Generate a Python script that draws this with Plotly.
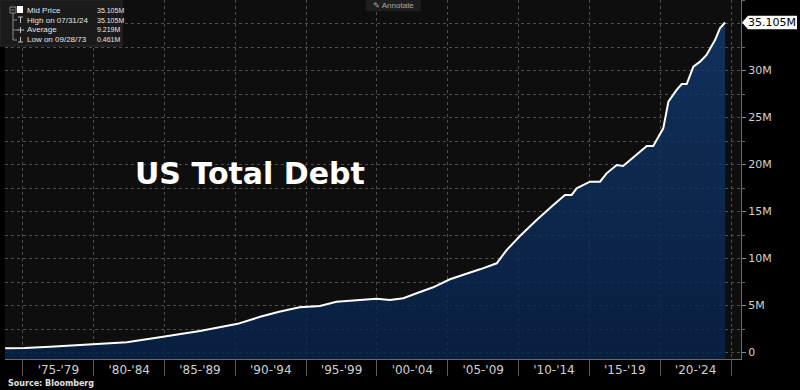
import plotly.graph_objects as go

# ---- data (US total debt, in M as labelled on the chart) ----
dates = [
    "1973-09-28", "1975-02-15", "1976-12-01", "1979-12-01", "1982-05-01",
    "1984-11-20", "1987-07-01", "1990-03-01", "1991-10-01", "1993-02-01",
    "1994-07-15", "1995-12-20", "1997-02-20", "1998-10-15", "1999-12-20",
    "2000-12-01", "2001-11-10", "2002-10-20", "2003-12-20", "2005-02-25",
    "2006-02-05", "2007-04-10", "2008-06-15", "2009-02-25", "2010-02-05",
    "2011-04-10", "2012-06-15", "2013-04-10", "2013-10-01", "2014-02-05",
    "2015-01-15", "2015-10-01", "2016-03-20", "2016-12-05", "2017-05-20",
    "2017-11-15", "2018-05-05", "2019-01-20", "2019-07-05", "2020-03-20",
    "2020-07-30", "2021-02-28", "2021-07-10", "2021-11-15", "2022-05-05",
    "2022-10-25", "2023-04-10", "2023-11-15", "2024-03-20", "2024-07-31",
]
debt_m = [
    0.461, 0.48, 0.62, 0.87, 1.09,
    1.68, 2.29, 3.05, 3.80, 4.34,
    4.81, 4.95, 5.40, 5.59, 5.72,
    5.59, 5.77, 6.30, 6.94, 7.79,
    8.24, 8.85, 9.49, 10.90, 12.39,
    14.10, 15.69, 16.76, 16.76, 17.47,
    18.17, 18.17, 19.06, 19.95, 19.84,
    20.48, 21.10, 21.97, 21.97, 23.85,
    26.68, 27.93, 28.56, 28.56, 30.40,
    30.94, 31.65, 33.24, 34.49, 35.105,
]

x_bin_edges = ["1975-01-01", "1980-01-01", "1985-01-01", "1990-01-01", "1995-01-01",
               "2000-01-01", "2005-01-01", "2010-01-01", "2015-01-01", "2020-01-01",
               "2025-01-01"]
x_label_pos = ["1977-07-02", "1982-07-02", "1987-07-02", "1992-07-02", "1997-07-02",
               "2002-07-02", "2007-07-02", "2012-07-02", "2017-07-02", "2022-07-02"]
x_labels = ["'75-'79", "'80-'84", "'85-'89", "'90-'94", "'95-'99",
            "'00-'04", "'05-'09", "'10-'14", "'15-'19", "'20-'24"]
y_tickvals = [0, 5, 10, 15, 20, 25, 30]
y_ticktext = ["0", "5M", "10M", "15M", "20M", "25M", "30M"]

legend_names = ["Mid Price", "High on 07/31/24", "Average", "Low on 09/28/73"]
legend_values = ["35.105M", "35.105M", "9.219M", "0.461M"]

Y_MIN, Y_MAX = -0.69, 37.5
X_RANGE = ["1973-09-24", "2025-09-15"]

# ---- pixel helpers for decorations ----
PL, PR, PT, PB = 5, 741, 0, 359
def px(x):
    return (x - PL) / (PR - PL)
def py(y):
    return (PB - y) / (PB - PT)

fig = go.Figure()
fig.add_trace(go.Scatter(x=dates, y=[Y_MIN] * len(dates), mode="lines",
                         line=dict(width=0, color="rgba(0,0,0,0)"),
                         hoverinfo="skip", showlegend=False))
fig.add_trace(go.Scatter(
    x=dates, y=debt_m, mode="lines", fill="tonexty",
    line=dict(color="white", width=2),
    fillgradient=dict(type="vertical",
                      colorscale=[[0, "rgba(7,34,74,0.82)"], [1, "rgba(18,56,108,0.82)"]]),
    showlegend=False))

grid_col = "#4e4e4e"
fig.update_layout(
    width=800, height=390, autosize=False,
    margin=dict(l=PL, r=800 - PR, t=PT, b=390 - PB),
    paper_bgcolor="#000000", plot_bgcolor="#0e0e0e",
    font=dict(family="DejaVu Sans", color="#d0d0d0"),
    xaxis=dict(
        type="date", range=X_RANGE, tickmode="array",
        tickvals=x_label_pos, ticktext=x_labels,
        ticks="outside", ticklen=0, showgrid=False, zeroline=False,
        showline=True, linecolor="#6a6a6a", linewidth=1,
        tickfont=dict(size=12, color="#d0d0d0"),
        minor=dict(tickmode="array", tickvals=x_bin_edges, ticks="outside",
                   ticklen=16, tickcolor="#5a5a5a", tickwidth=1,
                   showgrid=True, gridcolor=grid_col, griddash="dot", gridwidth=1),
    ),
    yaxis=dict(
        side="right", range=[Y_MIN, Y_MAX], tickmode="array",
        tickvals=y_tickvals, ticktext=y_ticktext,
        ticks="outside", ticklen=4, tickcolor="#8a8a8a",
        showgrid=True, gridcolor=grid_col, griddash="dot", gridwidth=1,
        zeroline=False, showline=True, linecolor="#6a6a6a", linewidth=1,
        tickfont=dict(size=11, color="#d0d0d0"),
        minor=dict(dtick=2.5, tick0=0, ticks="outside", ticklen=3,
                   tickcolor="#6a6a6a", showgrid=True, gridcolor=grid_col,
                   griddash="dot", gridwidth=1),
    ),
)

shapes = []
anns = []

# title
anns.append(dict(xref="paper", yref="paper", x=px(133), y=py(173),
                 xanchor="left", yanchor="middle", showarrow=False,
                 text="<b>US Total Debt</b>",
                 font=dict(family="DejaVu Sans", size=30, color="white")))
# source
anns.append(dict(xref="paper", yref="paper", x=px(6), y=py(383),
                 xanchor="left", yanchor="middle", showarrow=False,
                 text="<b>Source: Bloomberg</b>",
                 font=dict(family="DejaVu Sans", size=8, color="#e0e0e0")))

# last value tag
last = debt_m[-1]
h = 0.72
shapes.append(dict(type="path", xref="paper", yref="y", layer="above",
                   path=(f"M {px(742)},{last} L {px(748)},{last + h} L {px(797)},{last + h} "
                         f"L {px(797)},{last - h} L {px(748)},{last - h} Z"),
                   fillcolor="white", line=dict(width=0)))
anns.append(dict(xref="paper", yref="y", x=px(772), y=last,
                 xanchor="center", yanchor="middle", showarrow=False,
                 text=f"{last:.3f}M",
                 font=dict(family="DejaVu Sans", size=11, color="black")))

# annotate button
shapes.append(dict(type="rect", xref="paper", yref="paper", layer="above",
                   x0=px(366), x1=px(421), y0=py(11), y1=py(0),
                   fillcolor="#1e1e1e", line=dict(width=0)))
anns.append(dict(xref="paper", yref="paper", x=px(393.5), y=py(5),
                 xanchor="center", yanchor="middle", showarrow=False,
                 text="✎ Annotate",
                 font=dict(family="Liberation Sans", size=8, color="#a8a8a8")))

# legend box
shapes.append(dict(type="rect", xref="paper", yref="paper", layer="above",
                   x0=px(0), x1=px(122), y0=py(46), y1=py(0),
                   fillcolor="#1a1a1a", line=dict(width=1, color="#2a2a2a")))
tree = "#8a8a8a"
shapes.append(dict(type="rect", xref="paper", yref="paper", layer="above",
                   x0=px(10), x1=px(16), y0=py(13), y1=py(7),
                   line=dict(width=1, color=tree)))
shapes.append(dict(type="line", xref="paper", yref="paper", layer="above",
                   x0=px(11.5), x1=px(14.5), y0=py(10), y1=py(10),
                   line=dict(width=1, color=tree)))
shapes.append(dict(type="rect", xref="paper", yref="paper", layer="above",
                   x0=px(17), x1=px(23), y0=py(13), y1=py(6),
                   fillcolor="white", line=dict(width=0)))
shapes.append(dict(type="line", xref="paper", yref="paper", layer="above",
                   x0=px(13), x1=px(13), y0=py(13), y1=py(40),
                   line=dict(width=1, color=tree)))
for yy in (20, 30, 40):
    shapes.append(dict(type="line", xref="paper", yref="paper", layer="above",
                       x0=px(13), x1=px(17), y0=py(yy), y1=py(yy),
                       line=dict(width=1, color=tree)))
# glyphs: high (T), average (+), low (inverted T)
g = "#bdbdbd"
for seg in [((18, 17), (23, 17)), ((20.5, 17), (20.5, 23)),
            ((17, 30), (24, 30)), ((20.5, 27), (20.5, 33)),
            ((20.5, 37), (20.5, 42)), ((18, 42), (23, 42))]:
    (a, b), (c, d) = seg
    shapes.append(dict(type="line", xref="paper", yref="paper", layer="above",
                       x0=px(a), x1=px(c), y0=py(b), y1=py(d),
                       line=dict(width=1, color=g)))
for i, (nm, val) in enumerate(zip(legend_names, legend_values)):
    yy = 10 + 10 * i
    anns.append(dict(xref="paper", yref="paper", x=px(25), y=py(yy),
                     xanchor="left", yanchor="middle", showarrow=False, text=nm,
                     font=dict(family="Liberation Sans", size=8, color="#e4e4e4")))
    anns.append(dict(xref="paper", yref="paper", x=px(95), y=py(yy),
                     xanchor="left", yanchor="middle", showarrow=False, text=val,
                     font=dict(family="Liberation Sans", size=7, color="#e4e4e4")))

fig.update_layout(shapes=shapes, annotations=anns)
fig.write_html("out.html", config={"displayModeBar": False},
               post_script="document.body.style.margin='0';document.body.style.background='#000';")
